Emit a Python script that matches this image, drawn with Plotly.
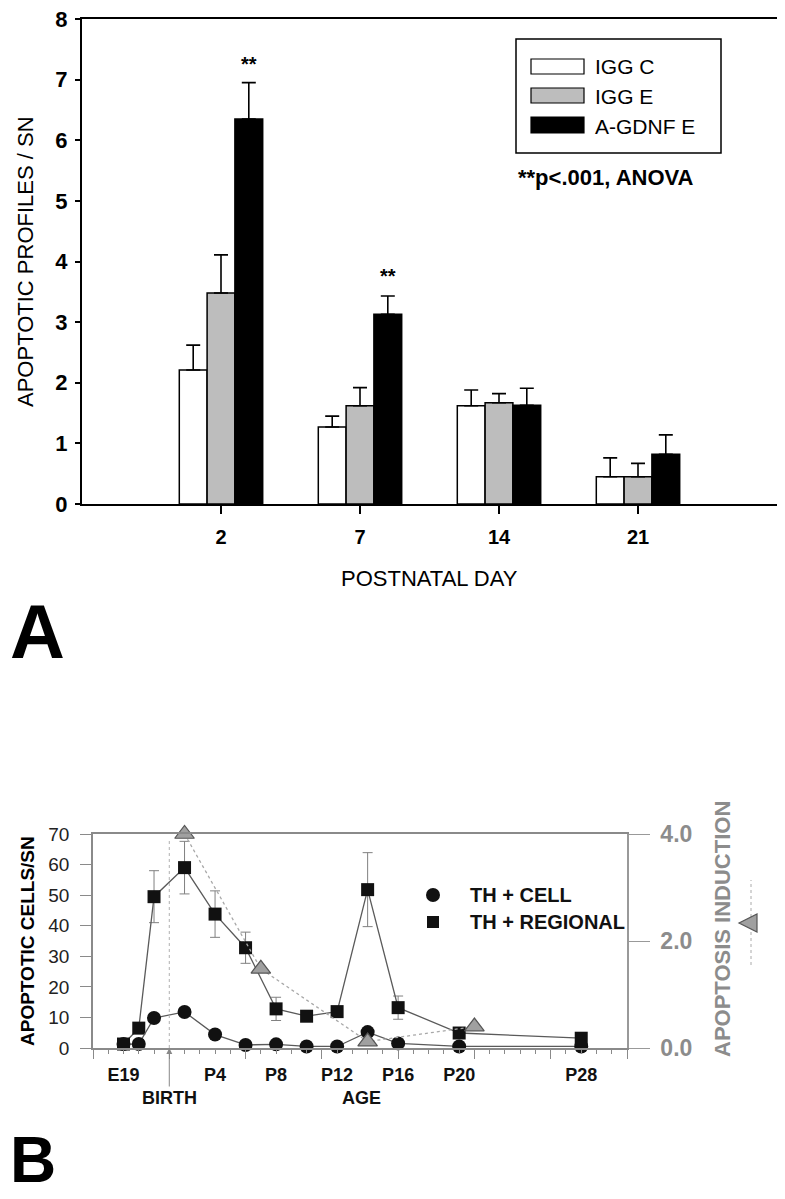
import plotly.graph_objects as go

# page body has an 8px default margin; lay the figure out in window pixels
OFF = 8
W, H = 785 - OFF, 1199 - OFF
FONT = "Liberation Sans, Arial, Helvetica, sans-serif"

# ---------------- Panel A data ----------------
days_A = ["2", "7", "14", "21"]
xpos_A = [1, 2, 3, 4]
iggc = [2.21, 1.27, 1.62, 0.45]
iggc_err = [0.41, 0.18, 0.26, 0.31]
igge = [3.48, 1.62, 1.67, 0.45]
igge_err = [0.63, 0.30, 0.15, 0.22]
agdnf = [6.35, 3.13, 1.63, 0.82]
agdnf_err = [0.60, 0.30, 0.28, 0.32]
series_A = ["IGG C", "IGG E", "A-GDNF E"]
colors_A = ["#ffffff", "#bdbdbd", "#000000"]

# ---------------- Panel B data ----------------
days_B = [-2, -1, 0, 2, 4, 6, 8, 10, 12, 14, 16, 20, 28]
th_cell = [1.3, 1.3, 9.8, 11.8, 4.4, 1.0, 1.2, 0.5, 0.5, 5.2, 1.5, 0.5, 0.5]
th_regional = [1.3, 6.5, 49.5, 59.0, 43.8, 32.8, 12.8, 10.4, 11.9, 51.8, 13.2, 4.9, 3.2]
th_regional_err = [0, 0, 8.5, 8.6, 7.6, 5.1, 3.8, 0, 1.2, 12.1, 3.8, 0, 0]
induction_days = [2, 7, 14, 21]
induction = [4.0, 1.48, 0.12, 0.40]
xtick_vals_B = [-2, 4, 8, 12, 16, 20, 28]
xtick_text_B = ["E19", "P4", "P8", "P12", "P16", "P20", "P28"]
birth_day = 1


def px(x):
    return (x - OFF) / W


def py(y):
    return 1 - (y - OFF) / H


fig = go.Figure()

errs = [iggc_err, igge_err, agdnf_err]
vals = [iggc, igge, agdnf]
for name, v, e, c in zip(series_A, vals, errs, colors_A):
    fig.add_trace(go.Bar(
        x=xpos_A, y=v, name=name, xaxis="x", yaxis="y",
        marker=dict(color=c, line=dict(color="black", width=1.5)),
        error_y=dict(type="data", array=e, arrayminus=[0] * len(e), symmetric=False,
                     color="black", thickness=1.6, width=7),
        showlegend=False,
    ))

# Panel B traces
gray_line = "#5a5a5a"
fig.add_trace(go.Scatter(
    x=induction_days, y=induction, xaxis="x2", yaxis="y3", mode="lines+markers",
    line=dict(color="#a8a8a8", width=1.3, dash="dot"),
    marker=dict(symbol="triangle-up", size=17, color="#a0a0a0", line=dict(color="#555", width=1.2)),
    cliponaxis=False, showlegend=False,
))
fig.add_trace(go.Scatter(
    x=days_B, y=th_regional, xaxis="x2", yaxis="y2", mode="lines+markers",
    line=dict(color=gray_line, width=1.3),
    marker=dict(symbol="square", size=13, color="#111"),
    error_y=dict(type="data", array=th_regional_err, color="#808080", thickness=1, width=5),
    cliponaxis=False, showlegend=False,
))
fig.add_trace(go.Scatter(
    x=days_B, y=th_cell, xaxis="x2", yaxis="y2", mode="lines+markers",
    line=dict(color=gray_line, width=1.3),
    marker=dict(symbol="circle", size=14, color="#111"),
    cliponaxis=False, showlegend=False,
))
# tick-only overlay axis for panel B day ticks
fig.add_trace(go.Scatter(x=[], y=[], xaxis="x4", yaxis="y2", showlegend=False))

domA_x = [px(82), px(777)]
domA_y = [py(504), py(19)]
domB_x = [px(93), px(627)]
domB_y = [py(1048), py(834)]

fig.update_layout(
    width=W, height=H, autosize=False,
    margin=dict(l=0, r=0, t=0, b=0, pad=0),
    paper_bgcolor="white", plot_bgcolor="white",
    font=dict(family=FONT, color="black"),
    barmode="group", bargap=0.4, bargroupgap=0,
    xaxis=dict(domain=domA_x, anchor="y", range=[0, 5], tickvals=xpos_A, ticktext=days_A,
               ticks="outside", ticklen=8, tickwidth=2, tickcolor="black",
               showline=True, linewidth=2, linecolor="black", mirror=True,
               showgrid=False, zeroline=False, ticklabelstandoff=6, automargin=False,
               ticklabeloverflow="allow",
               tickfont=dict(size=20, family=FONT, weight="bold")),
    yaxis=dict(domain=domA_y, anchor="x", range=[0, 8], dtick=1,
               ticks="outside", ticklen=5, tickwidth=2, tickcolor="black",
               showline=True, linewidth=2, linecolor="black", mirror=True,
               showgrid=False, zeroline=False, ticklabelstandoff=3, automargin=False,
               ticklabeloverflow="allow",
               tickfont=dict(size=22, family=FONT, weight="bold")),
    xaxis2=dict(domain=domB_x, anchor="y2", range=[-4, 31], tickvals=xtick_vals_B, ticktext=xtick_text_B,
                ticks="outside", ticklen=9, tickcolor="rgba(0,0,0,0)",
                showline=True, linewidth=1.5, linecolor="#8a8a8a", mirror=True,
                showgrid=False, zeroline=False, ticklabelstandoff=1, automargin=False,
                ticklabeloverflow="allow",
                tickfont=dict(size=18, family=FONT, weight="bold", color="#111")),
    xaxis4=dict(domain=domB_x, anchor="y2", overlaying="x2", range=[-4, 31],
                tick0=-4, dtick=5, ticks="outside", ticklen=10, tickcolor="#8a8a8a",
                showticklabels=False, showline=False, showgrid=False, zeroline=False, automargin=False,
                minor=dict(tick0=-4, dtick=1, ticks="outside", ticklen=5, tickcolor="#8a8a8a", showgrid=False)),
    yaxis2=dict(domain=domB_y, anchor="x2", range=[0, 70], dtick=10,
                ticks="outside", ticklen=11, tickwidth=1.2, tickcolor="#8a8a8a",
                showline=True, linewidth=1.5, linecolor="#8a8a8a",
                showgrid=False, zeroline=False, ticklabelstandoff=7, automargin=False,
                ticklabeloverflow="allow",
                tickfont=dict(size=19, family=FONT, color="#222")),
    yaxis3=dict(domain=domB_y, anchor="x2", overlaying="y2", side="right", range=[0, 4],
                tickvals=[0, 2, 4], ticktext=["0.0", "2.0", "4.0"],
                ticks="outside", ticklen=21, tickwidth=1.2, tickcolor="#999",
                showline=True, linewidth=1.5, linecolor="#999",
                showgrid=False, zeroline=False, ticklabelstandoff=6, automargin=False,
                ticklabeloverflow="allow",
                tickfont=dict(size=23, family=FONT, color="#8c8c8c", weight="bold")),
)


def note(x, y, text, size, bold=False, color="black", xanchor="center", angle=0, xref="paper", yref="paper"):
    f = dict(size=size, family=FONT, color=color)
    if bold:
        f["weight"] = "bold"
    return dict(x=x, y=y, xref=xref, yref=yref, text=text, showarrow=False,
                xanchor=xanchor, yanchor="middle", textangle=angle, font=f)


ann = []
# significance stars
ann.append(note(1.2, 7.25, "**", 20, bold=True, xref="x", yref="y"))
ann.append(note(2.2, 3.76, "**", 20, bold=True, xref="x", yref="y"))
# legend A text
for name, yy in zip(series_A, [67, 97, 127]):
    ann.append(note(px(593), py(yy), name, 21, xanchor="left"))
ann.append(note(px(516), py(177), "**p<.001, ANOVA", 22, bold=True, xanchor="left"))
# axis titles A
ann.append(note(px(26), py(262), "APOPTOTIC PROFILES / SN", 22, angle=-90))
ann.append(note(px(429.5), py(578), "POSTNATAL DAY", 22))
# panel letters
ann.append(note(px(37), py(631), "A", 76, bold=True))
ann.append(note(px(33), py(1160), "B", 64, bold=True))
# axis titles B
ann.append(note(px(27), py(941), "APOPTOTIC CELLS/SN", 19, bold=True, angle=-90))
ann.append(note(px(722), py(929), "APOPTOSIS INDUCTION", 22, bold=True, color="#8c8c8c", angle=-90))
# birth / age
ann.append(dict(x=birth_day, y=0, xref="x2", yref="y2", ax=0, ay=50, text="BIRTH",
                showarrow=True, arrowhead=2, arrowsize=1.2, arrowwidth=1, arrowcolor="#888",
                xanchor="center", yanchor="middle",
                font=dict(size=18, family=FONT, weight="bold", color="#111")))
ann.append(note(13.6, py(1098), "AGE", 18, bold=True, color="#111", xref="x2"))
# legend B text
ann.append(note(px(468), py(895), "TH + CELL", 20, bold=True, color="#111", xanchor="left"))
ann.append(note(px(468), py(922), "TH + REGIONAL", 20, bold=True, color="#111", xanchor="left"))
fig.update_layout(annotations=ann)

shapes = []
# legend A box and swatches
shapes.append(dict(type="rect", xref="paper", yref="paper", x0=px(516), x1=px(721), y0=py(153), y1=py(39),
                   line=dict(color="black", width=1.5), fillcolor="rgba(0,0,0,0)"))
for c, (y0, y1) in zip(colors_A, [(59, 74), (88, 103), (117, 133)]):
    shapes.append(dict(type="rect", xref="paper", yref="paper", x0=px(531), x1=px(584), y0=py(y1), y1=py(y0),
                       line=dict(color="black", width=1.2), fillcolor=c))
# birth dotted line
shapes.append(dict(type="line", xref="x2", yref="y2", x0=birth_day, x1=birth_day, y0=0, y1=68,
                   line=dict(color="#b0b0b0", width=1, dash="dot")))
# legend B symbols
shapes.append(dict(type="circle", xref="paper", yref="paper", x0=px(426), x1=px(440), y0=py(902), y1=py(888),
                   line=dict(color="#111", width=0), fillcolor="#111"))
shapes.append(dict(type="rect", xref="paper", yref="paper", x0=px(427), x1=px(439), y0=py(928), y1=py(916),
                   line=dict(color="#111", width=0), fillcolor="#111"))
# right-axis series symbol (rotated legend key)
shapes.append(dict(type="line", xref="paper", yref="paper", x0=px(751), x1=px(751), y0=py(965), y1=py(880),
                   line=dict(color="#aaa", width=1, dash="dot")))
shapes.append(dict(type="path", xref="paper", yref="paper",
                   path=f"M {px(739)} {py(923)} L {px(757)} {py(914)} L {px(757)} {py(932)} Z",
                   line=dict(color="#555", width=1.2), fillcolor="#a0a0a0"))
fig.update_layout(shapes=shapes)

fig.write_html("out.html")
